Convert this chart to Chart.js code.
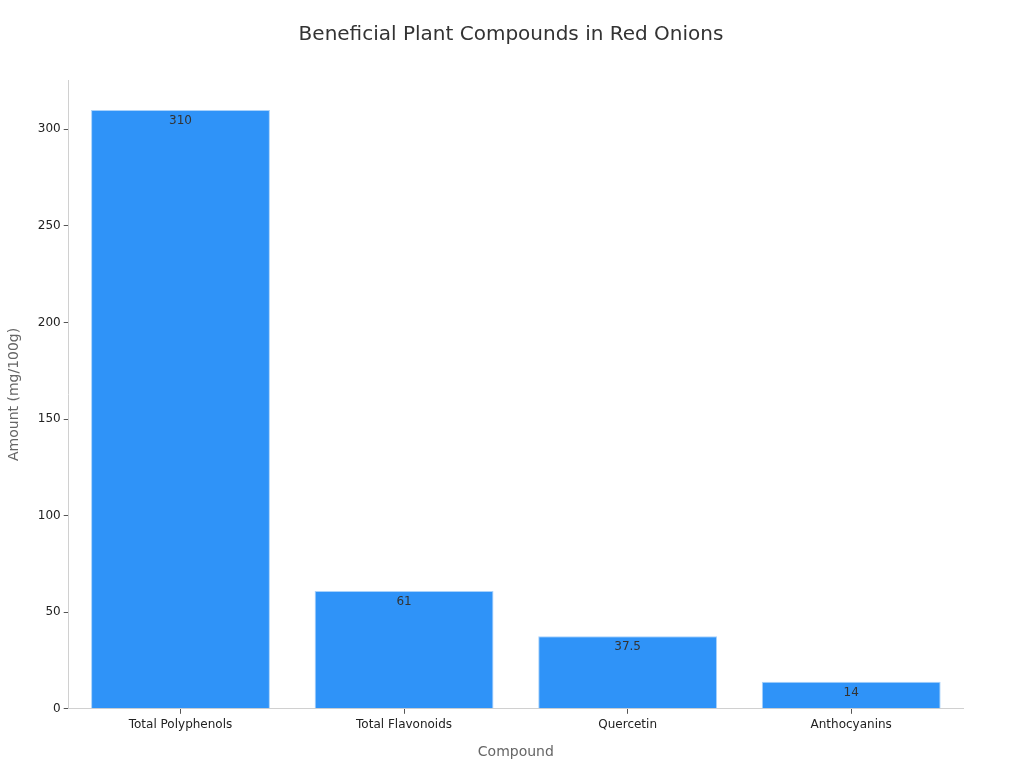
<!DOCTYPE html>
<html>
<head>
<meta charset="utf-8">
<script src="https://cdn.jsdelivr.net/npm/chart.js@4"></script>
<style>
  html, body { margin: 0; padding: 0; background: #fff; }
  #wrap { width: 1024px; height: 768px; }
</style>
</head>
<body>
<div id="wrap"><canvas id="onionChart"></canvas></div>
<script>
const compounds = ['Total Polyphenols', 'Total Flavonoids', 'Quercetin', 'Anthocyanins'];
const amounts = [310, 61, 37.5, 14];
const yTicks = [0, 50, 100, 150, 200, 250, 300];

// draws the value just under the top edge of each bar
const valueLabels = {
  id: 'valueLabels',
  afterDatasetsDraw(chart) {
    const c = chart.ctx;
    const meta = chart.getDatasetMeta(0);
    c.save();
    c.font = '12px "DejaVu Sans", sans-serif';
    c.fillStyle = '#333333';
    c.textAlign = 'center';
    c.textBaseline = 'top';
    meta.data.forEach((bar, i) => {
      c.fillText(String(amounts[i]), bar.x, bar.y + 5);
    });
    c.restore();
  }
};

Chart.defaults.font.family = '"DejaVu Sans", sans-serif';

new Chart(document.getElementById('onionChart'), {
  type: 'bar',
  data: {
    labels: compounds,
    datasets: [{
      data: amounts,
      backgroundColor: '#2f93f8',
      borderColor: '#a9d2fb',
      borderWidth: 1,
      categoryPercentage: 0.8,
      barPercentage: 1.0
    }]
  },
  options: {
    responsive: true,
    maintainAspectRatio: false,
    animation: false,
    layout: { padding: { top: 14, right: 4, left: 2, bottom: 3 } },
    plugins: {
      legend: { display: false },
      tooltip: { enabled: false },
      title: {
        display: true,
        text: 'Beneficial Plant Compounds in Red Onions',
        color: '#333333',
        font: { size: 20, weight: 'normal' },
        padding: { top: 9, bottom: 33 }
      }
    },
    scales: {
      x: {
        grid: { offset: false, drawOnChartArea: false, drawTicks: true, tickLength: 5, color: '#555555' },
        border: { color: '#d0d0d0' },
        ticks: { color: '#222222', font: { size: 12 }, padding: 4 },
        title: { display: true, text: 'Compound', color: '#666666', font: { size: 14 }, padding: { top: 8 } }
      },
      y: {
        min: 0,
        max: 325.5,
        afterBuildTicks: s => { s.ticks = yTicks.map(v => ({ value: v })); },
        grid: { drawOnChartArea: false, drawTicks: true, tickLength: 5, color: '#555555' },
        border: { color: '#d0d0d0' },
        ticks: { color: '#222222', font: { size: 12 }, padding: 3 },
        title: { display: true, text: 'Amount (mg/100g)', color: '#666666', font: { size: 14 }, padding: { bottom: 12 } }
      },
      // empty right-hand axis that only reserves space, so the title stays centred on the page
      yRight: {
        position: 'right',
        display: true,
        grid: { display: false },
        border: { display: false },
        ticks: { display: false },
        afterFit: s => { s.width = 57; }
      }
    }
  },
  plugins: [valueLabels]
});
</script>
</body>
</html>
